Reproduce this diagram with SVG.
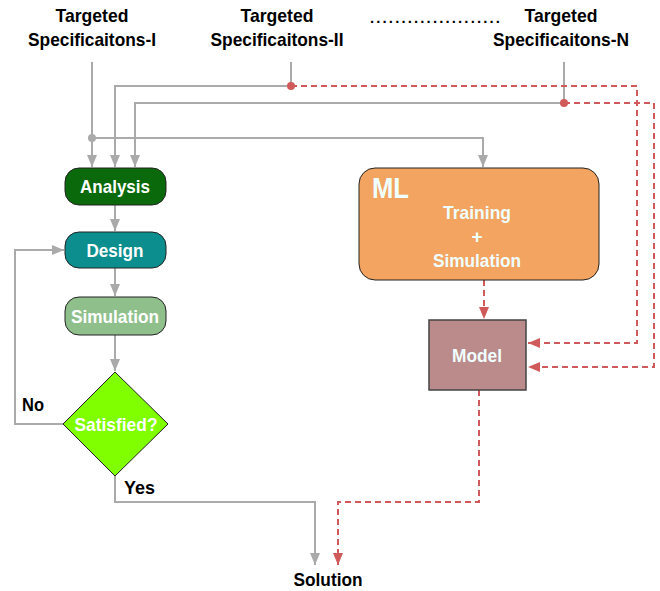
<svg xmlns="http://www.w3.org/2000/svg" width="660" height="591" viewBox="0 0 660 591">
<style>
text{font-family:"Liberation Sans",Arial,sans-serif;font-weight:bold;}
.lbl{font-size:19px;fill:#000;text-anchor:middle;}
.nt{font-size:19px;fill:#fff;text-anchor:middle;}
.lt{fill:#f0ffff;}
.g{fill:none;stroke:#aaaaaa;stroke-width:2;}
.r{fill:none;stroke:#d05a5a;stroke-width:2;stroke-dasharray:6,4;}
.box{stroke:#222;stroke-width:1;}
</style>
<defs>
<marker id="ag" viewBox="0 0 12 10" refX="12" refY="5" markerWidth="6" markerHeight="5" orient="auto" markerUnits="strokeWidth"><path d="M0,0 L12,5 L0,10 z" fill="#aaaaaa"/></marker>
<marker id="ar" viewBox="0 0 12 10" refX="12" refY="5" markerWidth="6" markerHeight="5" orient="auto" markerUnits="strokeWidth"><path d="M0,0 L12,5 L0,10 z" fill="#d05a5a"/></marker>
</defs>
<g id="spec1"><text class="lbl" x="92" y="22" textLength="73" lengthAdjust="spacingAndGlyphs">Targeted</text><text class="lbl" x="92" y="46" textLength="128" lengthAdjust="spacingAndGlyphs">Specificaitons-I</text></g>
<g id="spec2"><text class="lbl" x="277" y="22" textLength="73" lengthAdjust="spacingAndGlyphs">Targeted</text><text class="lbl" x="277" y="46" textLength="133" lengthAdjust="spacingAndGlyphs">Specificaitons-II</text></g>
<g id="dots"><text x="435" y="23" style="font-size:15px;fill:#000;text-anchor:middle" textLength="130" lengthAdjust="spacing">.....................</text></g>
<g id="specN"><text class="lbl" x="561" y="22" textLength="73" lengthAdjust="spacingAndGlyphs">Targeted</text><text class="lbl" x="561" y="46" textLength="136" lengthAdjust="spacingAndGlyphs">Specificaitons-N</text></g>
<g id="connectors">
<path class="g" d="M92,62 V167" marker-end="url(#ag)"/>
<path class="g" d="M92,138 H483 V167" marker-end="url(#ag)"/>
<path class="g" d="M291,62 V86 H115 V167" marker-end="url(#ag)"/>
<path class="g" d="M564,62 V103 H135 V167" marker-end="url(#ag)"/>
<circle cx="92" cy="138" r="4" fill="#aaaaaa"/>
<path class="r" d="M291,86 H637 V343 H528" marker-end="url(#ar)"/>
<path class="r" d="M564,103 H654 V367 H528" marker-end="url(#ar)"/>
<circle cx="291" cy="86" r="4" fill="#d05a5a"/>
<circle cx="564" cy="103" r="4" fill="#d05a5a"/>
<path class="g" d="M115,205 V231" marker-end="url(#ag)"/>
<path class="g" d="M115,268 V296" marker-end="url(#ag)"/>
<path class="g" d="M115,335 V371" marker-end="url(#ag)"/>
<path class="g" d="M63,424 H15 V250 H64" marker-end="url(#ag)"/>
<path class="g" d="M115,476 V502 H315 V565" marker-end="url(#ag)"/>
<path class="r" d="M484,280 V319" marker-end="url(#ar)"/>
<path class="r" d="M479,390 V502 H338 V565" marker-end="url(#ar)"/>
</g>
<g id="analysis"><rect class="box" x="65" y="168" width="101" height="37" rx="14" fill="#0a690a"/><text class="nt" x="115" y="193" textLength="70" lengthAdjust="spacingAndGlyphs">Analysis</text></g>
<g id="design"><rect class="box" x="65" y="232" width="101" height="36" rx="14" fill="#0c8e8e"/><text class="nt" x="115" y="257" textLength="57" lengthAdjust="spacingAndGlyphs">Design</text></g>
<g id="simulation"><rect class="box" x="65" y="297" width="101" height="38" rx="14" fill="#8fbf8b"/><text class="nt" x="115" y="323" fill="#eefff0" textLength="88" lengthAdjust="spacingAndGlyphs">Simulation</text></g>
<g id="satisfied"><path class="box" d="M115,372 L168,424 L115,476 L63,424 z" fill="#80ff00"/><text class="nt" x="116" y="431" textLength="83" lengthAdjust="spacingAndGlyphs">Satisfied?</text></g>
<g id="ml"><rect class="box" x="359" y="168" width="240" height="112" rx="16" fill="#f3a460"/><text x="372" y="198" class="lt" style="font-size:29px" textLength="37" lengthAdjust="spacingAndGlyphs">ML</text><text class="nt lt" x="477" y="219" textLength="68" lengthAdjust="spacingAndGlyphs">Training</text><text class="nt lt" x="477" y="243">+</text><text class="nt lt" x="477" y="267" textLength="88" lengthAdjust="spacingAndGlyphs">Simulation</text></g>
<g id="model"><rect x="429" y="320" width="97" height="70" fill="#bb8b8b" stroke="#444" stroke-width="1.5"/><text class="nt lt" x="477" y="362" textLength="50" lengthAdjust="spacingAndGlyphs">Model</text></g>
<g id="labels"><text x="22" y="411" style="font-size:18px" textLength="22" lengthAdjust="spacingAndGlyphs">No</text><text x="124" y="494" style="font-size:18px" textLength="31" lengthAdjust="spacingAndGlyphs">Yes</text></g>
<g id="solution"><text class="lbl" x="328" y="586" textLength="69" lengthAdjust="spacingAndGlyphs">Solution</text></g>
</svg>
